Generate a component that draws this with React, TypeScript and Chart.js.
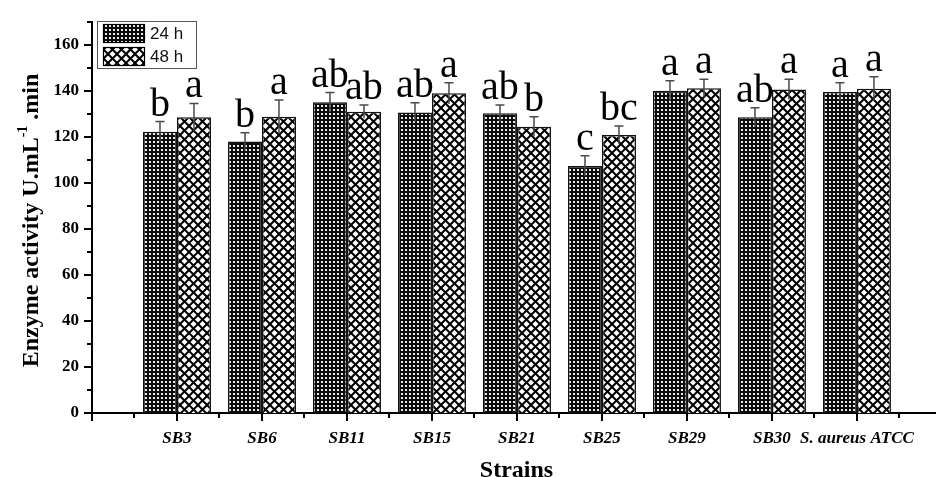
import React, { useEffect, useRef } from 'react';
import { Chart, registerables } from 'chart.js';

Chart.register(...registerables);

const categories = ['SB3', 'SB6', 'SB11', 'SB15', 'SB21', 'SB25', 'SB29', 'SB30', 'S. aureus ATCC'];
const series24 = [122.3, 118.0, 135.1, 130.7, 130.3, 107.4, 140.1, 128.6, 139.6];
const err24 = [4.4, 3.9, 4.2, 4.2, 3.6, 4.5, 4.4, 4.1, 4.0];
const series48 = [128.6, 128.8, 131.0, 139.0, 124.5, 120.9, 141.2, 140.7, 141.0];
const err48 = [6.0, 7.3, 2.9, 4.6, 4.3, 3.9, 3.9, 4.4, 5.2];
const letters24 = ['b', 'b', 'ab', 'ab', 'ab', 'c', 'a', 'ab', 'a'];
const letters48 = ['a', 'a', 'ab', 'a', 'b', 'bc', 'a', 'a', 'a'];
const seriesNames = ['24 h', '48 h'];
const yTickValues = [0, 20, 40, 60, 80, 100, 120, 140, 160];
const yMinorValues = [10, 30, 50, 70, 90, 110, 130, 150, 170];
const xTickValues = [0, 1, 2, 3, 4, 5, 6, 7, 8, 9];
const xMinorValues = [0.5, 1.5, 2.5, 3.5, 4.5, 5.5, 6.5, 7.5, 8.5, 9.5];

const SERIF = '"Liberation Serif", "Times New Roman", serif';
const SANS = '"Liberation Sans", Arial, sans-serif';

function makePattern24(): CanvasPattern {
  const c = document.createElement('canvas');
  c.width = 4;
  c.height = 4;
  const g = c.getContext('2d')!;
  g.fillStyle = '#0c0c0c';
  g.fillRect(0, 0, 4, 4);
  g.fillStyle = '#9a9a9a';
  g.fillRect(1, 1, 2, 2);
  g.fillStyle = '#ffffff';
  g.fillRect(1, 1, 1, 1);
  g.fillRect(2, 2, 1, 1);
  g.fillStyle = '#d8d8d8';
  g.fillRect(2, 1, 1, 1);
  g.fillRect(1, 2, 1, 1);
  return g.createPattern(c, 'repeat')!;
}

function makePattern48(): CanvasPattern {
  const s = 9;
  const c = document.createElement('canvas');
  c.width = s;
  c.height = s;
  const g = c.getContext('2d')!;
  g.fillStyle = '#fff';
  g.fillRect(0, 0, s, s);
  g.strokeStyle = '#000';
  g.lineWidth = 2;
  for (const k of [-s, 0, s]) {
    g.beginPath();
    g.moveTo(k, 0);
    g.lineTo(k + s, s);
    g.stroke();
    g.beginPath();
    g.moveTo(k + s, 0);
    g.lineTo(k, s);
    g.stroke();
  }
  return g.createPattern(c, 'repeat')!;
}

export default function App() {
  const ref = useRef<HTMLCanvasElement | null>(null);

  useEffect(() => {
    const canvas = ref.current;
    if (!canvas) return;
    const p24 = makePattern24();
    const p48 = makePattern48();
    const patterns = [p24, p48];
    const errs = [err24, err48];
    const letters = [letters24, letters48];

    const overlay = {
      id: 'overlay',
      beforeDraw(chart: any) {
        const ctx = chart.ctx;
        ctx.save();
        ctx.fillStyle = '#fff';
        ctx.fillRect(0, 0, chart.width, chart.height);
        ctx.restore();
      },
      afterDatasetsDraw(chart: any) {
        const ctx = chart.ctx;
        const ys = chart.scales.y;
        ctx.save();
        for (let d = 0; d < 2; d++) {
          const meta = chart.getDatasetMeta(d);
          const vals = chart.data.datasets[d].data as any[];
          meta.data.forEach((bar: any, i: number) => {
            const v = vals[i].y;
            const e = errs[d][i];
            const top = ys.getPixelForValue(v + e);
            const bot = ys.getPixelForValue(v - e);
            ctx.strokeStyle = '#4a4a4a';
            ctx.lineWidth = 1.5;
            ctx.beginPath();
            ctx.moveTo(bar.x, bot);
            ctx.lineTo(bar.x, top);
            ctx.moveTo(bar.x - 4.5, top);
            ctx.lineTo(bar.x + 4.5, top);
            ctx.stroke();
            ctx.fillStyle = '#000';
            ctx.font = `40px ${SERIF}`;
            ctx.textAlign = 'center';
            ctx.textBaseline = 'alphabetic';
            ctx.fillText(letters[d][i], bar.x, top - 6);
          });
        }
        ctx.restore();
      },
      afterDraw(chart: any) {
        const ctx = chart.ctx;
        const xs = chart.scales.x;
        const ys = chart.scales.y;
        const area = chart.chartArea;
        ctx.save();
        ctx.strokeStyle = '#000';
        ctx.lineWidth = 2;
        ctx.beginPath();
        for (const v of yTickValues) {
          const py = Math.round(ys.getPixelForValue(v));
          ctx.moveTo(area.left - 8, py);
          ctx.lineTo(area.left, py);
        }
        for (const v of yMinorValues) {
          const py = Math.round(ys.getPixelForValue(v));
          ctx.moveTo(area.left - 5, py);
          ctx.lineTo(area.left, py);
        }
        for (const v of xTickValues) {
          const px = Math.round(xs.getPixelForValue(v));
          ctx.moveTo(px, area.bottom);
          ctx.lineTo(px, area.bottom + 8);
        }
        for (const v of xMinorValues) {
          const px = Math.round(xs.getPixelForValue(v));
          ctx.moveTo(px, area.bottom);
          ctx.lineTo(px, area.bottom + 5);
        }
        ctx.stroke();

        // x title
        ctx.fillStyle = '#000';
        ctx.font = `bold 24px ${SERIF}`;
        ctx.textAlign = 'center';
        ctx.textBaseline = 'alphabetic';
        ctx.fillText('Strains', (area.left + area.right + 1) / 2 + 2, 477);

        // y title with superscript
        const main = 'Enzyme activity U.mL';
        const sup = '-1';
        const tail = ' .min';
        const fMain = `bold 24px ${SERIF}`;
        const fSup = `bold 14px ${SERIF}`;
        ctx.font = fMain;
        const wMain = ctx.measureText(main).width;
        const wTail = ctx.measureText(tail).width;
        ctx.font = fSup;
        const wSup = ctx.measureText(sup).width;
        const total = wMain + wSup + wTail;
        ctx.translate(38, (area.top + area.bottom) / 2 + 3);
        ctx.rotate(-Math.PI / 2);
        ctx.textAlign = 'left';
        let x0 = -total / 2;
        ctx.font = fMain;
        ctx.fillText(main, x0, 0);
        x0 += wMain;
        ctx.font = fSup;
        ctx.fillText(sup, x0, -11);
        x0 += wSup;
        ctx.font = fMain;
        ctx.fillText(tail, x0, 0);
        ctx.setTransform(1, 0, 0, 1, 0, 0);

        // legend
        ctx.lineWidth = 1;
        ctx.strokeStyle = '#555';
        ctx.strokeRect(97.5, 21.5, 99, 47);
        const rows = [24, 47];
        for (let d = 0; d < 2; d++) {
          ctx.fillStyle = patterns[d];
          ctx.fillRect(103, rows[d], 42, 19);
          ctx.strokeStyle = '#000';
          ctx.lineWidth = 1.2;
          ctx.strokeRect(103.5, rows[d] + 0.5, 41, 18);
          ctx.fillStyle = '#111';
          ctx.font = `17px ${SANS}`;
          ctx.textAlign = 'left';
          ctx.textBaseline = 'middle';
          ctx.fillText(seriesNames[d], 150, rows[d] + 10);
        }
        ctx.restore();
      },
    };

    const chart = new Chart(canvas, {
      type: 'bar',
      data: {
        datasets: [
          {
            label: seriesNames[0],
            data: series24.map((v, i) => ({ x: i + 1, y: v })),
            backgroundColor: p24,
            borderColor: '#111',
            borderWidth: 1.5,
            categoryPercentage: 0.8,
            barPercentage: 1.0,
          },
          {
            label: seriesNames[1],
            data: series48.map((v, i) => ({ x: i + 1, y: v })),
            backgroundColor: p48,
            borderColor: '#111',
            borderWidth: 1.5,
            categoryPercentage: 0.8,
            barPercentage: 1.0,
          },
        ],
      },
      options: {
        animation: false,
        responsive: false,
        devicePixelRatio: 1,
        layout: { padding: { top: 22, left: 0, right: 0, bottom: 0 } },
        plugins: {
          legend: { display: false },
          tooltip: { enabled: false },
        },
        scales: {
          x: {
            type: 'linear',
            min: 0,
            max: 9.93,
            offset: false,
            afterBuildTicks: (s: any) => {
              s.ticks = xTickValues.map((v) => ({ value: v }));
            },
            afterFit: (s: any) => {
              s.height = 64;
            },
            grid: { display: false, drawTicks: true, tickLength: 8 },
            border: { display: true, color: '#000', width: 2 },
            ticks: {
              autoSkip: false,
              maxRotation: 0,
              minRotation: 0,
              padding: 7,
              color: '#000',
              font: { family: SERIF, size: 17, style: 'italic', weight: 'bold' },
              callback: (v: any) => {
                const n = Number(v);
                return n >= 1 && n <= categories.length ? categories[n - 1] : '';
              },
            },
          },
          y: {
            type: 'linear',
            min: 0,
            max: 170,
            afterBuildTicks: (s: any) => {
              s.ticks = yTickValues.map((v) => ({ value: v }));
            },
            afterFit: (s: any) => {
              s.width = 92;
            },
            grid: { display: false, drawTicks: true, tickLength: 8 },
            border: { display: true, color: '#000', width: 2 },
            ticks: {
              padding: 5,
              color: '#000',
              font: { family: SERIF, size: 17, weight: 'bold' },
              callback: (v: any) => String(v),
            },
          },
        },
      },
      plugins: [overlay],
    } as any);

    return () => chart.destroy();
  }, []);

  return (
    <div style={{ position: 'fixed', left: 0, top: 0, width: 936, height: 477, background: '#fff' }}>
      <canvas ref={ref} width={936} height={477} style={{ display: 'block', width: 936, height: 477 }} />
    </div>
  );
}
